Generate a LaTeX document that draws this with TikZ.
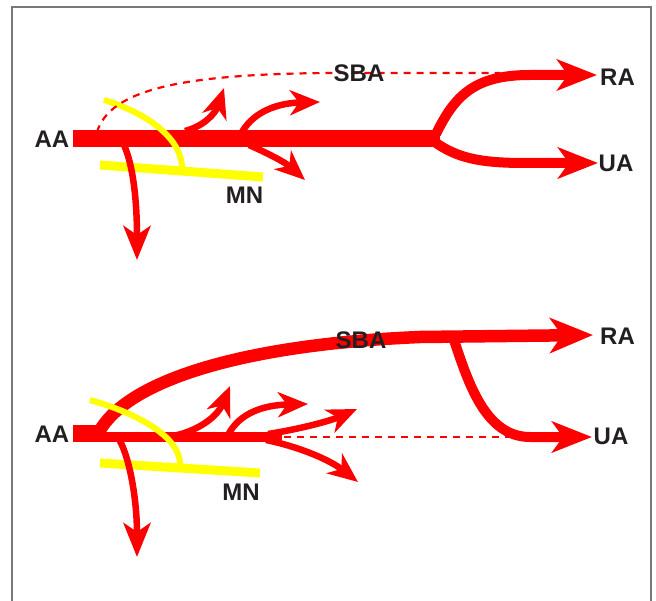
\documentclass[tikz,border=0pt]{standalone}
\usepackage{fontspec}
\setmainfont{Liberation Sans}
\usetikzlibrary{arrows.meta}
\definecolor{artery}{RGB}{255,0,0}
\definecolor{nerve}{RGB}{255,255,0}
\definecolor{labeltext}{RGB}{35,31,32}
\definecolor{framegray}{RGB}{120,120,120}

\tikzset{
  lbl/.style={text=labeltext, font=\fontsize{24}{24}\selectfont\bfseries, inner sep=0pt},
  trunk/.style={draw=artery, line width=17},
  bigvessel/.style={draw=artery, line width=10, -{Stealth[length=40pt,width=31pt,inset=11pt]}},
  smallvessel/.style={draw=artery, line width=6.5, -{Stealth[length=30pt,width=25pt,inset=9pt]}},
  downvessel/.style={draw=artery, line width=6.5, -{Stealth[length=34pt,width=27pt,inset=9pt]}},
  collateral/.style={draw=artery, line width=2.2, dash pattern=on 7pt off 6pt},
  nervearc/.style={draw=nerve, line width=6},
  nervebar/.style={draw=nerve, line width=9},
}

\begin{document}
\begin{tikzpicture}[x=1pt,y=-1pt]
\useasboundingbox (0,0) rectangle (656,601);
% open frame
\draw[framegray, line width=1.3] (12,603) -- (12,7) -- (651,7) -- (651,603);

% ---------------- upper panel ----------------
\coordinate (tAAend) at (73,138.5);
\coordinate (tFork) at (440,138.5);
\coordinate (tRAtip) at (597,75);
\coordinate (tUAtip) at (598,163);

\draw[trunk] (tAAend) -- (tFork);
\draw[bigvessel] (436,134) .. controls (455,95) and (475,75) .. (530,75) -- (tRAtip);
\draw[bigvessel] (436,143) .. controls (458,158) and (480,163) .. (525,163) -- (tUAtip);

% small side branches
\draw[smallvessel] (185,131) .. controls (205,126) and (216,112) .. (224,88);
\draw[smallvessel] (242,132) .. controls (255,110) and (280,103) .. (320,102);
\draw[smallvessel] (249,145) .. controls (265,152) and (285,162) .. (305,180);

% nerve
\draw[nervearc] (104,100) .. controls (150,114) and (182,140) .. (182,168);
\draw[nervebar] (100,165) -- (263,177);

% descending branch
\draw[downvessel] (124,145) .. controls (133,165) and (137,200) .. (137,260);

% collateral (dashed)
\draw[collateral] (97,132) .. controls (110,90) and (180,74) .. (330,73) -- (500,73);

\node[lbl] (tAA) at (52,139) {AA};
\node[lbl] (tSBA) at (359,73.5) {SBA};
\node[lbl] (tRA) at (617.5,77) {RA};
\node[lbl] (tUA) at (616,163) {UA};
\node[lbl] (tMN) at (244.5,195) {MN};

% ---------------- lower panel ----------------
\coordinate (bRAtip) at (593,335);
\coordinate (bUAtip) at (592,437);

\fill[artery] (73,425) rectangle (100,442);
\draw[draw=artery, line width=9.5] (99,437) -- (282,437);

% large curved vessel to RA
\draw[draw=artery, line width=12.5, -{Stealth[length=43pt,width=35pt,inset=12pt]}]
  (97,436) .. controls (120,385) and (230,345) .. (420,337) -- (bRAtip);
% branch down to UA
\draw[bigvessel] (453,337) .. controls (468,382) and (485,437) .. (530,437) -- (bUAtip);

% small side branches
\draw[smallvessel] (165,437) .. controls (190,435) and (216,420) .. (230,386);
\draw[smallvessel] (228,435) .. controls (240,412) and (265,405) .. (308,404);
\draw[smallvessel] (268,434) .. controls (300,429) and (330,421) .. (357,409);
\draw[smallvessel] (266,440) .. controls (300,447) and (330,460) .. (358,482);

% nerve
\draw[nervearc] (90,400) .. controls (140,414) and (180,438) .. (180,464);
\draw[nervebar] (100,463) -- (260,473);

% descending branch
\draw[downvessel] (120,441) .. controls (130,460) and (137,500) .. (137,557);

% collateral (dashed)
\draw[collateral] (284,437) -- (512,437);

\node[lbl] (bAA) at (52,434) {AA};
\node[lbl] (bSBA) at (361,340) {SBA};
\node[lbl] (bRA) at (617.5,336.5) {RA};
\node[lbl] (bUA) at (611,436.5) {UA};
\node[lbl] (bMN) at (241,492.5) {MN};
\end{tikzpicture}
\end{document}
